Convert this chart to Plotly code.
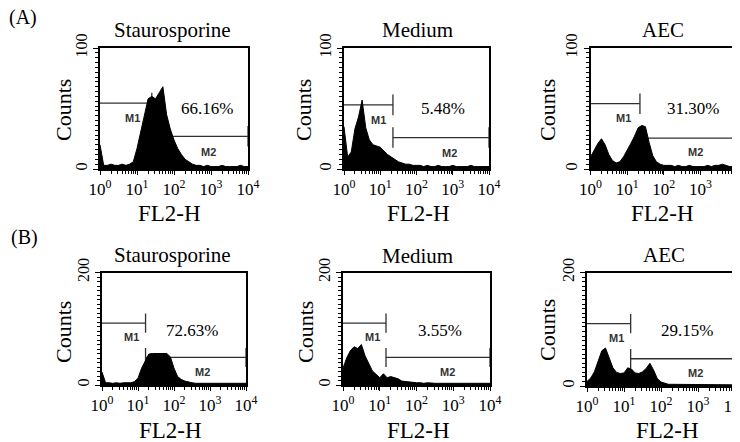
import plotly.graph_objects as go

W, H = 740, 442
OFF = 8  # page body margin in the viewer; pixel targets are shifted by it

# ---------------- data ----------------
# histogram bin positions, as log10 of the FL2-H channel value
bin_exp = [0.0, 0.1, 0.2, 0.3, 0.4, 0.5, 0.6, 0.7, 0.8, 0.9,
           1.0, 1.1, 1.2, 1.3, 1.4, 1.5, 1.6, 1.7, 1.8, 1.9,
           2.0, 2.1, 2.2, 2.3, 2.4, 2.5, 2.6, 2.7, 2.8, 2.9,
           3.0, 3.1, 3.2, 3.3, 3.4, 3.5, 3.6, 3.7, 3.8, 3.9, 4.0]

counts_A_staurosporine = [20, 3, 3, 4, 3, 3, 4, 3, 4, 6,
                          17, 31, 44, 58, 60, 58, 63, 68, 45, 33,
                          24, 17, 12, 8, 6, 4, 3, 3, 2, 3,
                          2, 2, 2, 3, 2, 2, 2, 2, 3, 2, 2]
counts_A_medium = [35, 10, 14, 33, 43, 57, 34, 24, 20, 19,
                   18, 15, 12, 10, 8, 6, 5, 4, 4, 3,
                   3, 3, 2, 3, 2, 2, 3, 2, 2, 2,
                   3, 2, 2, 2, 2, 3, 2, 2, 2, 2, 2]
counts_A_aec = [10, 16, 21, 25, 20, 12, 7, 5, 6, 10,
                15, 21, 27, 34, 36, 35, 22, 11, 6, 4,
                3, 3, 3, 2, 3, 2, 2, 3, 2, 2,
                2, 2, 3, 2, 3, 3, 4, 3, 2, 2, 2]
counts_B_staurosporine = [23, 4, 4, 3, 4, 3, 4, 4, 4, 6,
                          12, 30, 42, 55, 56, 56, 56, 56, 56, 50,
                          30, 15, 10, 7, 5, 4, 3, 3, 3, 3,
                          3, 3, 3, 4, 3, 3, 3, 3, 3, 3, 3]
counts_B_medium = [30, 48, 61, 68, 65, 72, 52, 37, 25, 19,
                   13, 20, 13, 15, 13, 11, 7, 6, 5, 5,
                   4, 4, 3, 4, 3, 3, 3, 3, 4, 3,
                   3, 3, 3, 3, 3, 3, 3, 3, 3, 3, 3]
counts_B_aec = [8, 14, 25, 42, 62, 67, 48, 32, 24, 22,
                23, 32, 30, 23, 22, 25, 31, 40, 28, 13,
                7, 5, 3, 3, 3, 2, 3, 3, 2, 2,
                3, 2, 2, 2, 2, 2, 2, 3, 2, 2, 2]

panel_titles = ["Staurosporine", "Medium", "AEC", "Staurosporine", "Medium", "AEC"]
percent_labels = ["66.16%", "5.48%", "31.30%", "72.63%", "3.55%", "29.15%"]
y_max = [100, 100, 100, 200, 200, 200]
# marker gates: boundary (log10 channel), M1 and M2 count levels
gate_boundary = [1.4, 1.35, 1.35, 1.21, 1.17, 1.18]
m1_level = [54.5, 53, 54, 110, 110, 110]
m2_level = [27, 26, 25.5, 49, 49, 48]

x_tick_exp = [0, 1, 2, 3, 4]
x_tick_text = ["10<sup>0</sup>", "10<sup>1</sup>", "10<sup>2</sup>", "10<sup>3</sup>", "10<sup>4</sup>"]
row_labels = ["(A)", "(B)"]
x_title = "FL2-H"
y_title = "Counts"

all_counts = [counts_A_staurosporine, counts_A_medium, counts_A_aec,
              counts_B_staurosporine, counts_B_medium, counts_B_aec]

# ---------------- layout geometry (target pixels in the screenshot) ----------------
boxes = [  # left, right, top, bottom
    (100, 248, 48, 169), (344, 489, 48, 169), (590.5, 737, 48, 169),
    (102, 246, 272.5, 385), (343, 490, 272.5, 385), (587, 735, 272.5, 386),
]
title_pos = [(172, 30), (417, 30), (663, 30), (172, 255), (417, 256), (664, 255)]
ylab_pos = [(63, 110), (303, 110), (547, 110), (63, 332), (305, 332), (547, 330)]
xlab_pos = [(169, 213), (418, 213), (662, 213), (170, 430), (418, 430), (667, 430)]
pct_pos = [(2.89, 0.50), (2.73, 0.50), (2.80, 0.50), (2.50, 0.485), (2.64, 0.485), (2.71, 0.485)]
m1_pos = [(0.89, 0.42), (0.94, 0.405), (0.89, 0.42), (0.83, 0.425), (0.79, 0.425), (0.81, 0.425)]
m2_pos = [(2.92, 0.14), (2.92, 0.132), (2.86, 0.14), (2.78, 0.115), (2.83, 0.115), (2.93, 0.115)]


def px(x):
    return (x - OFF) / W


def py(y):
    return 1 - (y - OFF) / H


SERIF = "Liberation Serif"
SANS = "Liberation Sans"

fig = go.Figure()
layout = dict(width=W, height=H, margin=dict(l=0, r=0, t=0, b=0, pad=0, autoexpand=False),
              paper_bgcolor="white", plot_bgcolor="white", showlegend=False)
annotations = []

minor_x = [m * 10 ** d for d in range(4) for m in range(2, 10)]

for i in range(6):
    sfx = "" if i == 0 else str(i + 1)
    xa, ya = "x" + sfx, "y" + sfx
    l, r, t, b = boxes[i]
    g = gate_boundary[i]
    half = y_max[i] * 0.085
    # gate lines (M1 / M2)
    gx = [1, 10 ** g, None, 10 ** g, 10 ** g, None,
          10 ** g, 10 ** 4, None, 10 ** g, 10 ** g, None, 10 ** 4, 10 ** 4]
    gy = [m1_level[i], m1_level[i], None, m1_level[i] - half, m1_level[i] + half, None,
          m2_level[i], m2_level[i], None, m2_level[i] - half, m2_level[i] + half, None,
          m2_level[i] - half, m2_level[i] + half]
    fig.add_trace(go.Scatter(x=gx, y=gy, xaxis=xa, yaxis=ya, mode="lines",
                             line=dict(color="#303030", width=1.3), hoverinfo="skip"))
    # histogram
    fig.add_trace(go.Scatter(x=[10 ** e for e in bin_exp], y=all_counts[i], xaxis=xa, yaxis=ya,
                             mode="lines", fill="tozeroy", fillcolor="black",
                             line=dict(color="black", width=1), hoverinfo="skip"))
    layout["xaxis" + sfx] = dict(
        domain=[px(l), px(r)], anchor=ya, type="log", range=[0, 4], automargin=False,
        tickvals=[10 ** e for e in x_tick_exp], ticktext=x_tick_text,
        ticks="outside", ticklen=4, tickwidth=1.2, tickcolor="black",
        minor=dict(tickvals=minor_x, ticks="outside", ticklen=3, tickcolor="black", showgrid=False),
        showline=True, mirror=True, linecolor="black", linewidth=1.5,
        showgrid=False, zeroline=False,
        tickfont=dict(family=SERIF, size=17, color="black"))
    layout["yaxis" + sfx] = dict(
        domain=[py(b), py(t)], anchor=xa, range=[0, y_max[i]], automargin=False,
        tickvals=[0, y_max[i]], tickangle=-90,
        ticks="outside", ticklen=5, tickwidth=1.2, tickcolor="black",
        minor=dict(dtick=y_max[i] / 25, ticks="outside", ticklen=3, tickcolor="black", showgrid=False),
        showline=True, mirror=True, linecolor="black", linewidth=1.5,
        showgrid=False, zeroline=False,
        tickfont=dict(family=SERIF, size=16, color="black"))
    # texts
    annotations.append(dict(text=panel_titles[i], x=px(title_pos[i][0]), y=py(title_pos[i][1]),
                            xref="paper", yref="paper", showarrow=False, xanchor="center", yanchor="middle",
                            font=dict(family=SERIF, size=21, color="black")))
    annotations.append(dict(text=y_title, x=px(ylab_pos[i][0]), y=py(ylab_pos[i][1]), textangle=-90,
                            xref="paper", yref="paper", showarrow=False, xanchor="center", yanchor="middle",
                            font=dict(family=SERIF, size=22, color="black")))
    annotations.append(dict(text=x_title, x=px(xlab_pos[i][0]), y=py(xlab_pos[i][1]),
                            xref="paper", yref="paper", showarrow=False, xanchor="center", yanchor="middle",
                            font=dict(family=SERIF, size=23, color="black")))
    annotations.append(dict(text=percent_labels[i], x=pct_pos[i][0], y=pct_pos[i][1] * y_max[i],
                            xref=xa, yref=ya, showarrow=False, xanchor="center", yanchor="middle",
                            font=dict(family=SERIF, size=17, color="black")))
    annotations.append(dict(text="<b>M1</b>", x=m1_pos[i][0], y=m1_pos[i][1] * y_max[i],
                            xref=xa, yref=ya, showarrow=False, xanchor="center", yanchor="middle",
                            font=dict(family=SANS, size=11, color="#333")))
    annotations.append(dict(text="<b>M2</b>", x=m2_pos[i][0], y=m2_pos[i][1] * y_max[i],
                            xref=xa, yref=ya, showarrow=False, xanchor="center", yanchor="middle",
                            font=dict(family=SANS, size=11, color="#333")))

annotations.append(dict(text=row_labels[0], x=px(23), y=py(17), xref="paper", yref="paper",
                        showarrow=False, xanchor="center", yanchor="middle",
                        font=dict(family=SERIF, size=20, color="black")))
annotations.append(dict(text=row_labels[1], x=px(24), y=py(237), xref="paper", yref="paper",
                        showarrow=False, xanchor="center", yanchor="middle",
                        font=dict(family=SERIF, size=20, color="black")))

layout["annotations"] = annotations
fig.update_layout(**layout)
fig.write_html("out.html")
